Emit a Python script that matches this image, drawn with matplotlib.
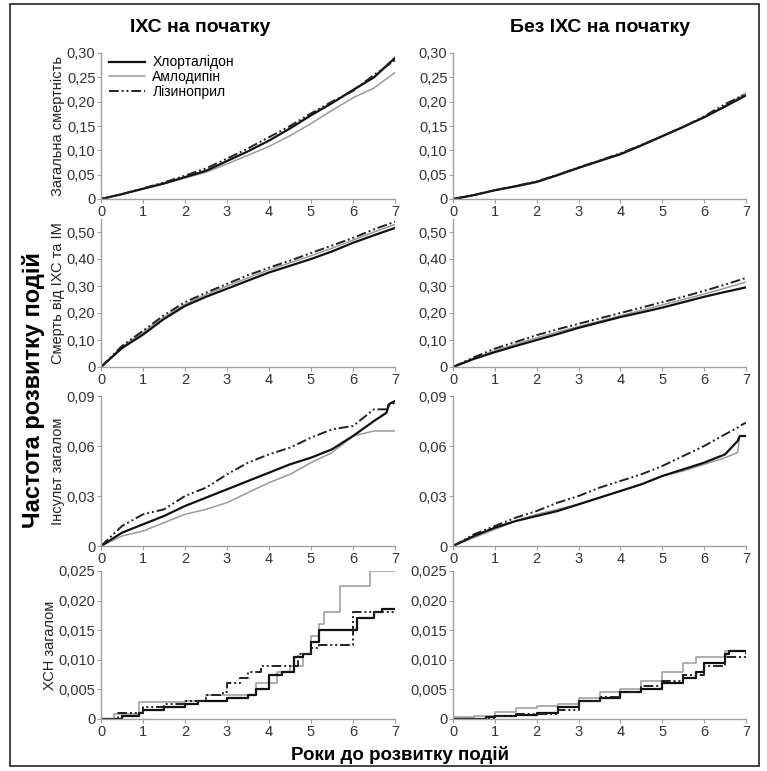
import numpy as np
import matplotlib
matplotlib.use("Agg")
import matplotlib.pyplot as plt
from matplotlib.patches import Rectangle

plt.rcParams['font.family'] = ['Liberation Sans', 'DejaVu Sans']

drugs = ['Хлорталідон', 'Амлодипін', 'Лізиноприл']
col_titles = ['ІХС на початку', 'Без ІХС на початку']
row_labels = ['Загальна смертність', 'Смерть від ІХС та ІМ', 'Інсульт загалом', 'ХСН загалом']

# smooth rows: values every half year 0..7
t_half = [0, 0.5, 1, 1.5, 2, 2.5, 3, 3.5, 4, 4.5, 5, 5.5, 6, 6.5, 7]
t_stroke = [0, 0.5, 1, 1.5, 2, 2.5, 3, 3.5, 4, 4.5, 5, 5.5, 6, 6.5, 6.8, 6.85, 7]

mort_chd_chl = [0, 0.010, 0.021, 0.032, 0.045, 0.058, 0.078, 0.098, 0.120, 0.145, 0.172, 0.197, 0.224, 0.250, 0.290]
mort_chd_aml = [0, 0.010, 0.021, 0.031, 0.043, 0.055, 0.072, 0.090, 0.108, 0.130, 0.155, 0.182, 0.208, 0.228, 0.260]
mort_chd_lis = [0, 0.010, 0.022, 0.034, 0.048, 0.063, 0.083, 0.104, 0.127, 0.150, 0.176, 0.200, 0.222, 0.255, 0.285]

mort_no_chl = [0, 0.008, 0.018, 0.026, 0.035, 0.049, 0.064, 0.078, 0.092, 0.110, 0.129, 0.148, 0.168, 0.190, 0.213]
mort_no_aml = [0, 0.008, 0.018, 0.027, 0.036, 0.050, 0.064, 0.079, 0.093, 0.111, 0.130, 0.149, 0.167, 0.192, 0.218]
mort_no_lis = [0, 0.008, 0.018, 0.027, 0.036, 0.050, 0.065, 0.079, 0.094, 0.111, 0.129, 0.148, 0.170, 0.195, 0.216]

chdmi_chd_chl = [0, 0.070, 0.120, 0.178, 0.226, 0.260, 0.290, 0.320, 0.350, 0.375, 0.400, 0.428, 0.460, 0.488, 0.515]
chdmi_chd_aml = [0, 0.075, 0.128, 0.185, 0.232, 0.268, 0.300, 0.330, 0.360, 0.386, 0.412, 0.440, 0.470, 0.500, 0.528]
chdmi_chd_lis = [0, 0.078, 0.134, 0.192, 0.240, 0.275, 0.308, 0.340, 0.368, 0.394, 0.422, 0.450, 0.478, 0.510, 0.538]

chdmi_no_chl = [0, 0.030, 0.055, 0.078, 0.100, 0.122, 0.145, 0.165, 0.185, 0.202, 0.220, 0.240, 0.260, 0.278, 0.295]
chdmi_no_aml = [0, 0.033, 0.060, 0.085, 0.108, 0.130, 0.150, 0.170, 0.190, 0.210, 0.230, 0.250, 0.270, 0.292, 0.315]
chdmi_no_lis = [0, 0.036, 0.068, 0.093, 0.118, 0.140, 0.160, 0.180, 0.200, 0.220, 0.240, 0.260, 0.282, 0.305, 0.330]

stroke_chd_chl = [0, 0.008, 0.013, 0.018, 0.024, 0.029, 0.034, 0.039, 0.044, 0.049, 0.053, 0.058, 0.066, 0.075, 0.080, 0.085, 0.087]
stroke_chd_aml = [0, 0.006, 0.009, 0.014, 0.019, 0.022, 0.026, 0.032, 0.038, 0.043, 0.050, 0.056, 0.066, 0.069, 0.069, 0.069, 0.069]
stroke_chd_lis = [0, 0.012, 0.019, 0.022, 0.030, 0.035, 0.043, 0.050, 0.055, 0.059, 0.065, 0.070, 0.072, 0.082, 0.082, 0.084, 0.086]

stroke_no_chl = [0, 0.006, 0.011, 0.015, 0.018, 0.021, 0.025, 0.029, 0.033, 0.037, 0.042, 0.046, 0.050, 0.055, 0.063, 0.066, 0.066]
stroke_no_aml = [0, 0.005, 0.010, 0.015, 0.019, 0.022, 0.025, 0.029, 0.033, 0.037, 0.042, 0.045, 0.049, 0.053, 0.056, 0.066, 0.066]
stroke_no_lis = [0, 0.007, 0.012, 0.017, 0.021, 0.026, 0.030, 0.035, 0.039, 0.043, 0.048, 0.054, 0.060, 0.067, 0.071, 0.072, 0.074]

# heart failure: step curves (time of jump, level after)
hf_chd_chl_t = [0, 0.5, 0.9, 1.0, 1.5, 2.0, 2.3, 3.0, 3.5, 3.7, 4.0, 4.3, 4.6, 4.8, 5.0, 5.2, 6.0, 6.1, 6.5, 6.7, 7.0]
hf_chd_chl_y = [0, 0.0005, 0.001, 0.0015, 0.002, 0.0025, 0.003, 0.0035, 0.004, 0.005, 0.0075, 0.008, 0.0105, 0.011, 0.013, 0.015, 0.015, 0.017, 0.018, 0.0185, 0.0185]
hf_chd_aml_t = [0, 0.3, 0.9, 1.8, 2.0, 2.5, 3.5, 3.7, 4.2, 4.5, 4.8, 5.0, 5.2, 5.3, 5.6, 5.7, 6.3, 6.4, 7.0]
hf_chd_aml_y = [0, 0.0008, 0.0028, 0.0028, 0.003, 0.004, 0.004, 0.006, 0.008, 0.009, 0.011, 0.014, 0.016, 0.018, 0.018, 0.0225, 0.0225, 0.025, 0.025]
hf_chd_lis_t = [0, 0.4, 1.0, 1.5, 2.0, 2.5, 2.9, 3.0, 3.3, 3.5, 3.8, 4.5, 4.7, 5.0, 5.2, 5.9, 6.0, 7.0]
hf_chd_lis_y = [0, 0.001, 0.002, 0.0025, 0.003, 0.004, 0.0045, 0.006, 0.007, 0.008, 0.009, 0.009, 0.011, 0.012, 0.0125, 0.0125, 0.018, 0.018]

hf_no_chl_t = [0, 0.8, 1.0, 1.5, 2.0, 2.5, 3.0, 3.5, 4.0, 4.5, 5.0, 5.5, 5.8, 6.0, 6.4, 6.5, 6.6, 7.0]
hf_no_chl_y = [0, 0.0003, 0.0005, 0.0007, 0.001, 0.002, 0.003, 0.0035, 0.0045, 0.005, 0.006, 0.007, 0.008, 0.0095, 0.0095, 0.011, 0.0115, 0.0115]
hf_no_aml_t = [0, 0.5, 1.0, 1.5, 2.0, 2.5, 3.0, 3.5, 4.0, 4.5, 5.0, 5.5, 5.8, 6.4, 6.5, 7.0]
hf_no_aml_y = [0.0003, 0.0005, 0.0012, 0.0018, 0.0022, 0.0025, 0.0035, 0.0045, 0.005, 0.0065, 0.008, 0.0095, 0.0105, 0.0105, 0.0115, 0.0115]
hf_no_lis_t = [0, 1.0, 1.5, 2.0, 2.5, 3.0, 3.5, 4.0, 4.5, 5.0, 5.5, 6.0, 6.5, 7.0]
hf_no_lis_y = [0, 0.0005, 0.0008, 0.0008, 0.0015, 0.003, 0.0038, 0.0045, 0.0055, 0.0065, 0.0075, 0.009, 0.0105, 0.0115]

yticks = [
    ([0, 0.05, 0.10, 0.15, 0.20, 0.25, 0.30], ['0', '0,05', '0,10', '0,15', '0,20', '0,25', '0,30'], 0.30),
    ([0, 0.10, 0.20, 0.30, 0.40, 0.50], ['0', '0,10', '0,20', '0,30', '0,40', '0,50'], 0.55),
    ([0, 0.03, 0.06, 0.09], ['0', '0,03', '0,06', '0,09'], 0.09),
    ([0, 0.005, 0.010, 0.015, 0.020, 0.025], ['0', '0,005', '0,010', '0,015', '0,020', '0,025'], 0.025),
]

styles = [
    dict(color='#111111', lw=1.6, ls='-'),
    dict(color='#9a9a9a', lw=1.1, ls='-'),
    dict(color='#222222', lw=1.4, ls=(0, (5, 1.5, 1, 1.5, 1, 1.5))),
]

W, H = 767, 771
fig = plt.figure(figsize=(W / 100, H / 100), dpi=100)

# frame around the figure
fig.patches.append(Rectangle((10 / W, 1 - 766 / H), 749 / W, 762 / H, transform=fig.transFigure,
                             fill=False, ec='#222222', lw=1.2))

cols_px = [(101, 395), (453, 746)]
rows_px = [(199, 146), (367, 148.5), (546, 150), (719, 148)]
label_x = [58, 58, 58, 50]

smooth = {
    (0, 0): (t_half, mort_chd_chl, mort_chd_aml, mort_chd_lis),
    (0, 1): (t_half, mort_no_chl, mort_no_aml, mort_no_lis),
    (1, 0): (t_half, chdmi_chd_chl, chdmi_chd_aml, chdmi_chd_lis),
    (1, 1): (t_half, chdmi_no_chl, chdmi_no_aml, chdmi_no_lis),
    (2, 0): (t_stroke, stroke_chd_chl, stroke_chd_aml, stroke_chd_lis),
    (2, 1): (t_stroke, stroke_no_chl, stroke_no_aml, stroke_no_lis),
}
steps = {
    (3, 0): ((hf_chd_chl_t, hf_chd_chl_y), (hf_chd_aml_t, hf_chd_aml_y), (hf_chd_lis_t, hf_chd_lis_y)),
    (3, 1): ((hf_no_chl_t, hf_no_chl_y), (hf_no_aml_t, hf_no_aml_y), (hf_no_lis_t, hf_no_lis_y)),
}

for r in range(4):
    ybot, hgt = rows_px[r]
    for c in range(2):
        x0, x1 = cols_px[c]
        ax = fig.add_axes([x0 / W, 1 - ybot / H, (x1 - x0) / W, hgt / H])
        if (r, c) in smooth:
            tt = smooth[(r, c)][0]
            for i in [1, 0, 2]:
                ax.plot(tt, smooth[(r, c)][i + 1], label=drugs[i], **styles[i])
        else:
            for i in [1, 0, 2]:
                tt, yy = steps[(r, c)][i]
                ax.step(tt, yy, where='post', label=drugs[i], **styles[i])
        ticks, labels, top = yticks[r]
        ax.set_ylim(0, top)
        ax.set_xlim(0, 7)
        ax.set_yticks(ticks)
        ax.set_yticklabels(labels)
        ax.set_xticks(range(8))
        for s in ['top', 'right']:
            ax.spines[s].set_visible(False)
        for s in ['left', 'bottom']:
            ax.spines[s].set_color('#a0a0a0')
            ax.spines[s].set_linewidth(1.0)
        ax.tick_params(colors='#a0a0a0', labelcolor='#333333', labelsize=10.5, length=3, pad=1)
        ax.patch.set_alpha(0)
        if r == 0 and c == 0:
            h, l = ax.get_legend_handles_labels()
            idx = [l.index(d) for d in drugs]
            ax.legend([h[k] for k in idx], drugs, loc='upper left', bbox_to_anchor=(0.0, 1.04),
                      frameon=False, fontsize=10, handlelength=2.6, handletextpad=0.5,
                      labelspacing=0.05, borderaxespad=0.2)

# column titles
fig.text(200 / W, 1 - 28 / H, col_titles[0], ha='center', va='center', fontsize=14, fontweight='bold')
fig.text(600 / W, 1 - 28 / H, col_titles[1], ha='center', va='center', fontsize=14, fontweight='bold')

# per-row titles on the left
for r in range(4):
    ybot, hgt = rows_px[r]
    fig.text(label_x[r] / W, 1 - (ybot - hgt / 2) / H, row_labels[r], rotation=90, ha='center', va='center',
             fontsize=10.5, color='#222222')

fig.text(34 / W, 1 - 390 / H, 'Частота розвитку подій', rotation=90, ha='center', va='center',
         fontsize=17, fontweight='bold')
fig.text(400 / W, 1 - 755 / H, 'Роки до розвитку подій', ha='center', va='center',
         fontsize=13.5, fontweight='bold')

fig.savefig('out.png', dpi=100)
